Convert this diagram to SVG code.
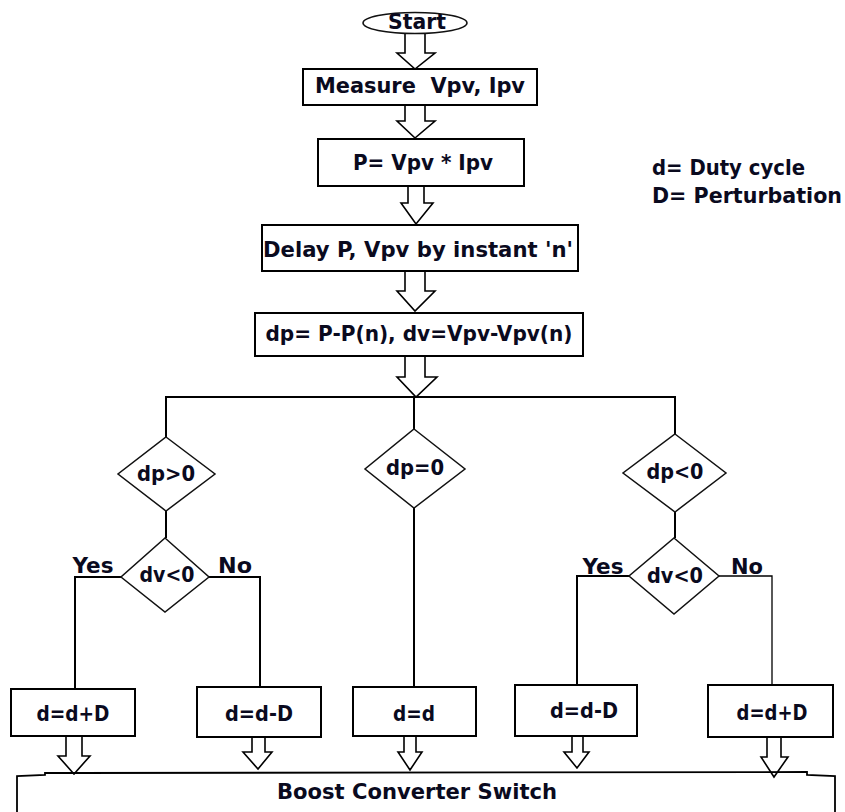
<svg xmlns="http://www.w3.org/2000/svg" width="845" height="812" viewBox="0 0 845 812">
<style>
text{font-family:"DejaVu Sans","Liberation Sans",sans-serif;font-weight:bold;font-size:21px;fill:#0a0a1e;text-anchor:middle}
.box{fill:#fff;stroke:#000;stroke-width:2}
.dia{fill:#fff;stroke:#111;stroke-width:1.5}
.ln{fill:none;stroke:#000;stroke-width:2}
.thin{fill:none;stroke:#000;stroke-width:1.3}
.arr{fill:#fff;stroke:#000;stroke-width:1.6;stroke-linejoin:miter}
</style>
<rect width="845" height="812" fill="#fff"/>
<g id="connectors">
  <polyline class="ln" points="166,437 166,397 675,397 675,434"/>
  <line class="ln" x1="414" y1="397" x2="414" y2="429"/>
  <line class="ln" x1="414" y1="508" x2="414" y2="687"/>
  <line class="ln" x1="166" y1="511" x2="166" y2="538"/>
  <line class="ln" x1="675" y1="512" x2="675" y2="538"/>
  <polyline class="ln" points="121,577 75,577 75,689"/>
  <polyline class="ln" points="209,577 260,577 260,687"/>
  <polyline class="ln" points="629,576 577,576 577,685"/>
  <polyline class="thin" points="719,576 772,576 772,685"/>
  <polygon class="arr" points="405,33 425,33 425,53 435,53 415,69 397,53 405,53"/>
  <polygon class="arr" points="405,105 425,105 425,121 435,121 415,138 397,121 405,121"/>
  <polygon class="arr" points="408,186 424,186 424,203 433,203 416,224 401,203 408,203"/>
  <polygon class="arr" points="405,271 425,271 425,291 435,291 415,311 397,291 405,291"/>
  <polygon class="arr" points="405,356 425,356 425,377 437,377 416,397 397,377 405,377"/>
  <polygon class="arr" points="66,736 82,736 82,756 90,756 74,774 58,756 66,756"/>
  <polygon class="arr" points="252,737 265,737 265,752 272,752 258,769 243,752 252,752"/>
  <polygon class="arr" points="404,736 416,736 416,752 422,752 410,770 398,752 404,752"/>
  <polygon class="arr" points="572,736 583,736 583,752 589,752 577,768 564,752 572,752"/>
  <polygon class="arr" points="767,737 781,737 781,757 788,757 774,777 761,757 767,757"/>
</g>
<g id="start">
  <ellipse class="dia" cx="415" cy="23" rx="52" ry="10.5"/>
  <text x="417" y="29" textLength="58" lengthAdjust="spacingAndGlyphs">Start</text>
</g>
<g id="measure">
  <rect class="box" x="303" y="69" width="234" height="36"/>
  <text x="420" y="93" textLength="210" lengthAdjust="spacingAndGlyphs">Measure&#160; Vpv, Ipv</text>
</g>
<g id="power">
  <rect class="box" x="318" y="139" width="206" height="47"/>
  <text x="423" y="170" textLength="140" lengthAdjust="spacingAndGlyphs">P= Vpv * Ipv</text>
</g>
<g id="delay">
  <rect class="box" x="262" y="225" width="316" height="46"/>
  <text x="418" y="257" textLength="310" lengthAdjust="spacingAndGlyphs">Delay P, Vpv by instant 'n'</text>
</g>
<g id="diff">
  <rect class="box" x="255" y="313" width="328" height="43"/>
  <text x="419" y="341" textLength="307" lengthAdjust="spacingAndGlyphs">dp= P-P(n), dv=Vpv-Vpv(n)</text>
</g>
<g id="legend">
  <text x="652" y="175" style="text-anchor:start" textLength="153" lengthAdjust="spacingAndGlyphs">d= Duty cycle</text>
  <text x="652" y="203" style="text-anchor:start" textLength="190" lengthAdjust="spacingAndGlyphs">D= Perturbation</text>
</g>
<g id="dp-pos">
  <polygon class="dia" points="166,437 215,474 166,511 118,474"/>
  <text x="166" y="481" textLength="58" lengthAdjust="spacingAndGlyphs">dp&gt;0</text>
</g>
<g id="dp-zero">
  <polygon class="dia" points="414,429 465,469 414,508 365,469"/>
  <text x="415" y="475" textLength="58" lengthAdjust="spacingAndGlyphs">dp=0</text>
</g>
<g id="dp-neg">
  <polygon class="dia" points="675,434 726,473 675,512 623,473"/>
  <text x="675" y="479" textLength="57" lengthAdjust="spacingAndGlyphs">dp&lt;0</text>
</g>
<g id="dv-left">
  <polygon class="dia" points="165,538 209,577 165,612 121,577"/>
  <text x="167" y="582" textLength="55" lengthAdjust="spacingAndGlyphs">dv&lt;0</text>
  <text x="93" y="573" textLength="41" lengthAdjust="spacingAndGlyphs">Yes</text>
  <text x="235" y="573" textLength="34" lengthAdjust="spacingAndGlyphs">No</text>
</g>
<g id="dv-right">
  <polygon class="dia" points="674,538 719,576 674,614 629,576"/>
  <text x="675" y="583" textLength="56" lengthAdjust="spacingAndGlyphs">dv&lt;0</text>
  <text x="603" y="574" textLength="41" lengthAdjust="spacingAndGlyphs">Yes</text>
  <text x="747" y="574" textLength="32" lengthAdjust="spacingAndGlyphs">No</text>
</g>
<g id="inc-left">
  <rect class="box" x="11" y="689" width="124" height="47"/>
  <text x="73" y="721" textLength="73" lengthAdjust="spacingAndGlyphs">d=d+D</text>
</g>
<g id="dec-left">
  <rect class="box" x="197" y="687" width="124" height="50"/>
  <text x="259" y="721" textLength="68" lengthAdjust="spacingAndGlyphs">d=d-D</text>
</g>
<g id="keep">
  <rect class="box" x="353" y="687" width="123" height="49"/>
  <text x="414" y="721" textLength="42" lengthAdjust="spacingAndGlyphs">d=d</text>
</g>
<g id="dec-right">
  <rect class="box" x="515" y="685" width="122" height="51"/>
  <text x="584" y="718" textLength="68" lengthAdjust="spacingAndGlyphs">d=d-D</text>
</g>
<g id="inc-right">
  <rect class="box" x="708" y="685" width="125" height="52"/>
  <text x="772" y="720" textLength="71" lengthAdjust="spacingAndGlyphs">d=d+D</text>
</g>
<g id="boost">
  <path class="ln" d="M17,812 L17,776 L45,775 L45,773 L75,773 L807,772 L807,775 L835,776 L835,812" style="stroke-width:1.8"/>
  <text x="417" y="799" textLength="280" lengthAdjust="spacingAndGlyphs">Boost Converter Switch</text>
</g>
</svg>
